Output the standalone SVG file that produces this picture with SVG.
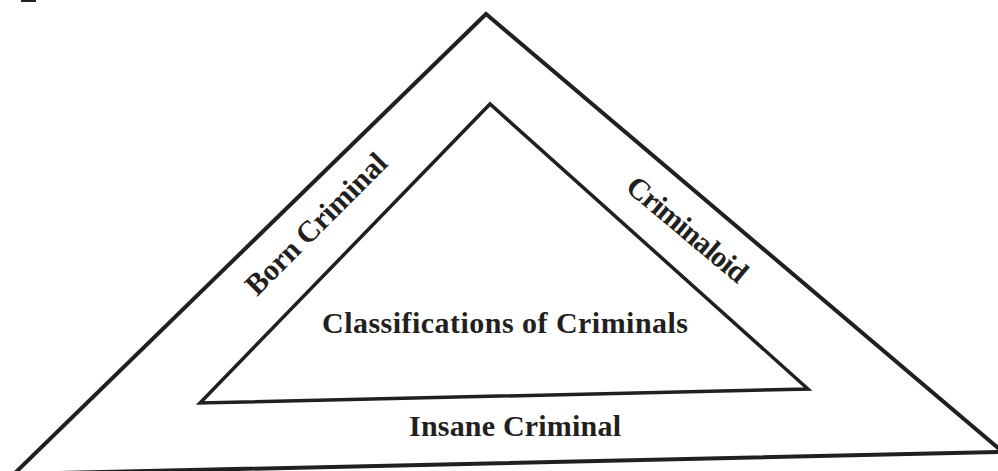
<svg xmlns="http://www.w3.org/2000/svg" width="998" height="471" viewBox="0 0 998 471">
<style>
.edge{fill:none;stroke:#231f20;stroke-linejoin:miter;stroke-miterlimit:30}
.lbl{font-family:"Liberation Serif","Times New Roman",serif;font-weight:bold;fill:#231f20;font-size:30px;text-anchor:middle}
</style>
<rect x="0" y="0" width="998" height="471" fill="#ffffff"/>
<rect x="21" y="0" width="15" height="2" fill="#231f20"/>
<g id="outer-triangle">
<path class="edge" stroke-width="4" d="M14,474 L486,14 L1003,452 Z"/>
</g>
<g id="inner-triangle">
<path class="edge" stroke-width="3.5" d="M200,403 L490,104 L808,389 Z"/>
</g>
<g id="born-criminal">
<text class="lbl" transform="translate(323,231) rotate(-45)" textLength="187" lengthAdjust="spacing">Born Criminal</text>
</g>
<g id="criminaloid">
<text class="lbl" transform="translate(681,237) rotate(40)" textLength="148" lengthAdjust="spacing">Criminaloid</text>
</g>
<g id="classifications">
<text class="lbl" x="505" y="333" textLength="366" lengthAdjust="spacing">Classifications of Criminals</text>
</g>
<g id="insane-criminal">
<text class="lbl" x="515" y="436" textLength="212" lengthAdjust="spacing">Insane Criminal</text>
</g>
</svg>
